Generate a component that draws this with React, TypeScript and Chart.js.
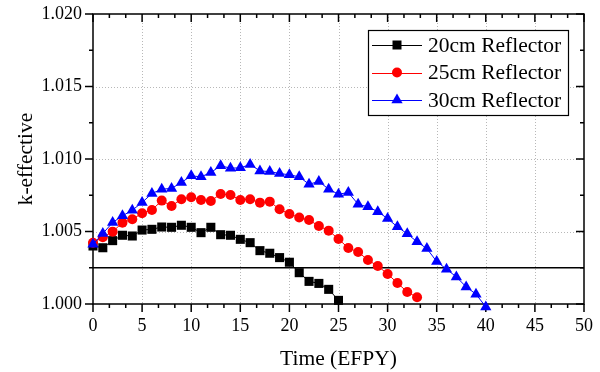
import React, { useEffect, useRef } from 'react';
import { Chart, registerables } from 'chart.js';

Chart.register(...registerables);

// ---- data ----
const efpy = [0, 1, 2, 3, 4, 5, 6, 7, 8, 9, 10, 11, 12, 13, 14, 15, 16, 17, 18, 19, 20, 21, 22, 23, 24, 25, 26, 27, 28, 29, 30, 31, 32, 33, 34, 35, 36, 37, 38, 39, 40];

const reflector20 = [1.00400, 1.00388, 1.00437, 1.00474, 1.00469, 1.00510, 1.00515, 1.00531, 1.00529, 1.00543, 1.00529, 1.00492, 1.00529, 1.00478, 1.00474, 1.00446, 1.00423, 1.00368, 1.00350, 1.00320, 1.00288, 1.00216, 1.00156, 1.00142, 1.00101, 1.00025];

const reflector25 = [1.00423, 1.00460, 1.00499, 1.00561, 1.00584, 1.00626, 1.00648, 1.00713, 1.00676, 1.00722, 1.00736, 1.00717, 1.00710, 1.00759, 1.00752, 1.00717, 1.00722, 1.00699, 1.00706, 1.00653, 1.00621, 1.00596, 1.00579, 1.00538, 1.00506, 1.00448, 1.00386, 1.00359, 1.00303, 1.00262, 1.00207, 1.00145, 1.00083, 1.00046];

const reflector30 = [1.00412, 1.00486, 1.00562, 1.00608, 1.00647, 1.00700, 1.00762, 1.00792, 1.00797, 1.00838, 1.00884, 1.00877, 1.00907, 1.00953, 1.00937, 1.00939, 1.00962, 1.00918, 1.00913, 1.00900, 1.00891, 1.00877, 1.00826, 1.00845, 1.00792, 1.00757, 1.00769, 1.00688, 1.00670, 1.00637, 1.00589, 1.00532, 1.00484, 1.00429, 1.00382, 1.00293, 1.00240, 1.00187, 1.00118, 1.00068, 0.99980];

const limitX = [0, 50];
const limitK = [1.0025, 1.0025];

const seriesLabels = ['20cm Reflector', '25cm Reflector', '30cm Reflector'];
const seriesColors = ['#000000', '#ff0000', '#0000ff'];
const seriesStyles = ['rect', 'circle', 'triangle'];

const xTicks = [0, 5, 10, 15, 20, 25, 30, 35, 40, 45, 50];
const yTicks = [1.000, 1.005, 1.010, 1.015, 1.020];
const xMinorStep = 5 / 3;
const yMinorStep = 0.0025;

const xTitle = 'Time (EFPY)';
const yTitle = 'k-effective';

const FONT = '"Liberation Serif", "DejaVu Serif", "Times New Roman", serif';

function pts(ys: number[]) {
  return ys.map((y, i) => ({ x: efpy[i], y }));
}

function drawMarker(ctx: CanvasRenderingContext2D, style: string, x: number, y: number, color: string) {
  ctx.save();
  ctx.fillStyle = color;
  ctx.beginPath();
  if (style === 'rect') {
    ctx.rect(x - 4.5, y - 4.5, 9, 9);
  } else if (style === 'circle') {
    ctx.arc(x, y, 5, 0, Math.PI * 2);
  } else {
    const r = 6.5;
    ctx.moveTo(x, y - r);
    ctx.lineTo(x + r * Math.sin(Math.PI / 3), y + r / 2);
    ctx.lineTo(x - r * Math.sin(Math.PI / 3), y + r / 2);
    ctx.closePath();
  }
  ctx.fill();
  ctx.restore();
}

const framePlugin = {
  id: 'originFrame',
  beforeDatasetsDraw(chart: any) {
    const { ctx, chartArea: a, scales } = chart;
    const xs = scales.x, ys = scales.y;
    ctx.save();
    // dotted grid
    ctx.strokeStyle = '#b8b8b8';
    ctx.lineWidth = 1;
    ctx.setLineDash([1, 2]);
    xTicks.slice(1, -1).forEach((v) => {
      const px = Math.round(xs.getPixelForValue(v)) + 0.5;
      ctx.beginPath();
      ctx.moveTo(px, a.top);
      ctx.lineTo(px, a.bottom);
      ctx.stroke();
    });
    yTicks.slice(1, -1).forEach((v) => {
      const py = Math.round(ys.getPixelForValue(v)) + 0.5;
      ctx.beginPath();
      ctx.moveTo(a.left, py);
      ctx.lineTo(a.right, py);
      ctx.stroke();
    });
    ctx.setLineDash([]);
    // frame
    ctx.strokeStyle = '#000';
    ctx.lineWidth = 1.5;
    ctx.strokeRect(a.left, a.top, a.right - a.left, a.bottom - a.top);
    // ticks
    const major = 8, minor = 4;
    ctx.lineWidth = 1.5;
    const xmin = xTicks[0], xmax = xTicks[xTicks.length - 1];
    for (let i = 0; xmin + i * xMinorStep <= xmax + 1e-9; i++) {
      const v = xmin + i * xMinorStep;
      const isMajor = i % 3 === 0;
      const len = isMajor ? major : minor;
      const px = xs.getPixelForValue(v);
      ctx.beginPath();
      ctx.moveTo(px, a.bottom);
      ctx.lineTo(px, a.bottom + len);
      ctx.moveTo(px, a.top);
      ctx.lineTo(px, a.top + len);
      ctx.stroke();
    }
    const ymin = yTicks[0], ymax = yTicks[yTicks.length - 1];
    for (let i = 0; ymin + i * yMinorStep <= ymax + 1e-9; i++) {
      const v = ymin + i * yMinorStep;
      const isMajor = i % 2 === 0;
      const len = isMajor ? major : minor;
      const py = ys.getPixelForValue(v);
      ctx.beginPath();
      ctx.moveTo(a.left, py);
      ctx.lineTo(a.left - len, py);
      ctx.moveTo(a.right, py);
      ctx.lineTo(a.right - len, py);
      ctx.stroke();
    }
    ctx.restore();
  },
  afterDatasetsDraw(chart: any) {
    const { ctx, chartArea: a } = chart;
    const bx = a.right - 216, by = a.top + 16, bw = 200, bh = 85;
    ctx.save();
    ctx.fillStyle = '#fff';
    ctx.fillRect(bx, by, bw, bh);
    ctx.strokeStyle = '#000';
    ctx.lineWidth = 1.2;
    ctx.strokeRect(bx + 0.5, by + 0.5, bw, bh);
    ctx.font = `21.5px ${FONT}`;
    ctx.textBaseline = 'middle';
    ctx.textAlign = 'left';
    seriesLabels.forEach((label, i) => {
      const cy = by + 15 + i * 27.5;
      ctx.strokeStyle = seriesColors[i];
      ctx.lineWidth = 1;
      ctx.beginPath();
      ctx.moveTo(bx + 4, Math.round(cy) + 0.5);
      ctx.lineTo(bx + 54, Math.round(cy) + 0.5);
      ctx.stroke();
      drawMarker(ctx, seriesStyles[i], bx + 29, cy, seriesColors[i]);
      ctx.fillStyle = '#000';
      ctx.fillText(label, bx + 60, cy + 1);
    });
    ctx.restore();
  },
};

export default function App() {
  const ref = useRef<HTMLCanvasElement | null>(null);
  useEffect(() => {
    if (!ref.current) return;
    const series = [reflector20, reflector25, reflector30];
    const datasets: any[] = series.map((ys, i) => ({
      label: seriesLabels[i],
      data: pts(ys),
      borderColor: seriesColors[i],
      backgroundColor: seriesColors[i],
      borderWidth: 1,
      pointStyle: seriesStyles[i],
      pointRadius: i === 0 ? 6.4 : i === 1 ? 5 : 6.5,
      pointBorderWidth: 0,
      pointHoverRadius: 6,
      tension: 0,
      clip: false,
      order: 3 - i,
    }));
    datasets.push({
      label: 'limit',
      data: limitX.map((x, i) => ({ x, y: limitK[i] })),
      borderColor: '#000',
      borderWidth: 1.5,
      pointRadius: 0,
      order: 10,
    });
    const chart = new Chart(ref.current, {
      type: 'line',
      data: { datasets },
      options: {
        animation: false,
        responsive: true,
        maintainAspectRatio: false,
        layout: { padding: { top: 14, right: 16, left: 0, bottom: 0 } },
        plugins: { legend: { display: false }, tooltip: { enabled: false } },
        scales: {
          x: {
            type: 'linear',
            min: xTicks[0],
            max: xTicks[xTicks.length - 1],
            afterBuildTicks: (s: any) => { s.ticks = xTicks.map((v) => ({ value: v })); },
            afterFit: (s: any) => { s.height = 68; s.paddingLeft = 0; s.paddingRight = 0; },
            ticks: {
              color: '#000',
              font: { family: FONT, size: 18 },
              padding: 11,
              maxRotation: 0,
              autoSkip: false,
              callback: (v: any) => String(v),
            },
            grid: { display: false, drawTicks: false },
            border: { display: false },
            title: {
              display: true,
              text: xTitle,
              color: '#000',
              font: { family: FONT, size: 21.5 },
              padding: { top: 0, bottom: 0 },
            },
          },
          y: {
            type: 'linear',
            min: yTicks[0],
            max: yTicks[yTicks.length - 1],
            afterBuildTicks: (s: any) => { s.ticks = yTicks.map((v) => ({ value: v })); },
            afterFit: (s: any) => { s.width = 93; s.paddingTop = 0; s.paddingBottom = 0; },
            ticks: {
              color: '#000',
              font: { family: FONT, size: 18 },
              padding: 11,
              autoSkip: false,
              callback: (v: any) => Number(v).toFixed(3),
            },
            grid: { display: false, drawTicks: false },
            border: { display: false },
            title: {
              display: true,
              text: yTitle,
              color: '#000',
              font: { family: FONT, size: 21.5 },
              padding: { top: 13, bottom: 0 },
            },
          },
        },
      },
      plugins: [framePlugin],
    });
    return () => chart.destroy();
  }, []);
  return (
    <div style={{ position: 'fixed', left: 0, top: 0, width: 600, height: 372, background: '#fff' }}>
      <canvas ref={ref} />
    </div>
  );
}
